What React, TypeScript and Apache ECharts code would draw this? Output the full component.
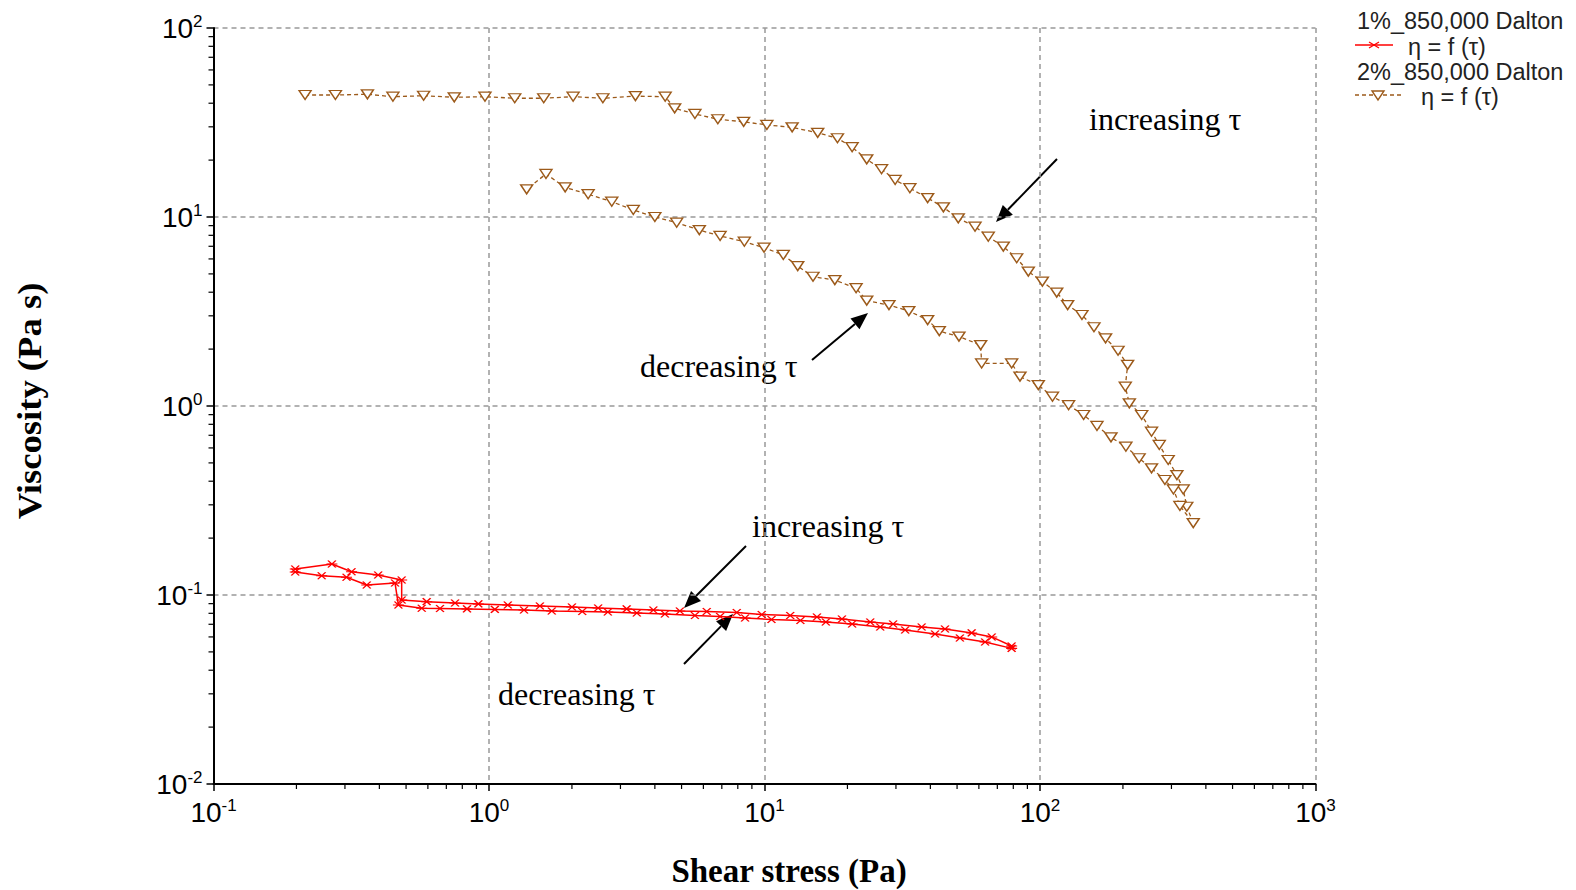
import React, { useEffect, useRef } from "react";
import * as echarts from "echarts";

// ---- Data ----
// 2% solution, increasing shear stress branch
const brownUpX = [0.215, 0.277, 0.362, 0.448, 0.579, 0.748, 0.967, 1.24, 1.58, 2.02, 2.59, 3.4, 4.36, 4.72, 5.59, 6.77, 8.4, 10.2, 12.6, 15.6, 18.4, 20.8, 23.5, 26.6, 29.8, 33.7, 39.1, 44.6, 50.5, 58.1, 64.9, 73.6, 82.3, 90.7, 102, 115, 126, 142, 157, 173, 192, 208, 204, 211, 234, 254, 271, 292, 314, 331, 341, 360];
const brownUpY = [44.2, 44.2, 44.6, 43.3, 43.8, 43.0, 43.3, 42.5, 42.5, 43.3, 42.5, 43.6, 43.3, 37.6, 35.1, 32.9, 31.9, 30.7, 29.8, 27.9, 26.1, 23.4, 20.2, 17.9, 15.7, 14.2, 12.6, 11.25, 9.84, 8.89, 7.87, 6.97, 6.05, 5.14, 4.55, 3.98, 3.42, 3.03, 2.61, 2.28, 1.96, 1.65, 1.265, 1.033, 0.896, 0.731, 0.622, 0.518, 0.431, 0.362, 0.293, 0.24];
// 2% solution, decreasing shear stress branch
const brownDownX = [322, 305, 284, 254, 229, 205, 181, 161, 144, 127, 111, 98.6, 84.6, 78.9, 61.4, 60.9, 50.8, 43.1, 39.1, 33.4, 28.3, 23.5, 21.5, 18.0, 15.0, 13.2, 11.7, 9.96, 8.45, 6.9, 5.8, 4.8, 4.0, 3.34, 2.79, 2.29, 1.89, 1.61, 1.37];
const brownDownY = [0.296, 0.362, 0.406, 0.468, 0.529, 0.609, 0.683, 0.784, 0.896, 1.01, 1.12, 1.29, 1.43, 1.68, 1.68, 2.1, 2.33, 2.49, 2.85, 3.18, 3.42, 3.61, 4.2, 4.64, 4.83, 5.5, 6.3, 6.88, 7.4, 7.94, 8.53, 9.33, 10.0, 10.9, 12.05, 13.2, 14.35, 16.9, 14.0];
// 1% solution, increasing branch
const redUpX = [0.198, 0.269, 0.317, 0.396, 0.482, 0.482, 0.594, 0.753, 0.915, 1.17, 1.53, 2.0, 2.49, 3.16, 3.95, 4.93, 6.17, 7.93, 9.77, 12.4, 15.5, 19.1, 24.2, 29.3, 37.2, 45.2, 56.5, 66.8, 78.9];
const redUpY = [0.1373, 0.146, 0.1328, 0.1276, 0.1201, 0.0941, 0.0922, 0.0907, 0.0897, 0.0885, 0.0875, 0.0864, 0.0853, 0.0844, 0.0833, 0.0823, 0.0818, 0.0808, 0.0788, 0.0779, 0.0765, 0.0746, 0.072, 0.0702, 0.0677, 0.0661, 0.063, 0.06, 0.0537];
// 1% solution, decreasing branch
const redDownX = [78.9, 63.2, 51.2, 41.6, 32.4, 26.3, 20.8, 16.7, 13.5, 10.6, 8.5, 6.9, 5.59, 4.35, 3.44, 2.7, 2.18, 1.69, 1.34, 1.05, 0.832, 0.664, 0.57, 0.469, 0.456, 0.36, 0.304, 0.247, 0.198];
const redDownY = [0.0522, 0.0564, 0.0592, 0.0622, 0.0653, 0.0677, 0.0702, 0.072, 0.0733, 0.0742, 0.0755, 0.0769, 0.0779, 0.0793, 0.0803, 0.0813, 0.0818, 0.0823, 0.0833, 0.0839, 0.0844, 0.0849, 0.0851, 0.0885, 0.1157, 0.1129, 0.1241, 0.1265, 0.1324];

const minorMantissas = [2, 3, 4, 5, 6, 7, 8, 9];
const xDecades = [0.1, 1, 10, 100];
const yDecades = [0.01, 0.1, 1, 10];

const BROWN = "#9C5A1A";
const RED = "#FF0000";

const pairs = (xs: number[], ys: number[]) => xs.map((x, i) => [x, ys[i]]);

function arrow(x1: number, y1: number, x2: number, y2: number) {
  const a = Math.atan2(y2 - y1, x2 - x1);
  const L = 17, W = 7;
  const bx = x2 - L * Math.cos(a), by = y2 - L * Math.sin(a);
  const px = -Math.sin(a) * W, py = Math.cos(a) * W;
  return [
    { type: "line", shape: { x1, y1, x2: bx, y2: by }, style: { stroke: "#000", lineWidth: 2 } },
    { type: "polygon", shape: { points: [[x2, y2], [bx + px, by + py], [bx - px, by - py]] }, style: { fill: "#000" } },
  ];
}

const TICK_FONT = '"Liberation Sans", Arial, sans-serif';
const labelRich = {
  b: { fontSize: 28, fontFamily: TICK_FONT, color: "#000", lineHeight: 30 },
  s: { fontSize: 17, fontFamily: TICK_FONT, color: "#000", lineHeight: 30, verticalAlign: "top" },
};
const expFormatter = (v: number) => `{b|10}{s|${Math.round(Math.log10(v))}}`;

export default function App() {
  const ref = useRef<HTMLDivElement>(null);
  useEffect(() => {
    if (!ref.current) return;
    const chart = echarts.init(ref.current, null, { renderer: "svg" });
    const xMinor: number[] = [];
    xDecades.forEach((d) => minorMantissas.forEach((m) => xMinor.push(d * m)));
    const yMinor: number[] = [];
    yDecades.forEach((d) => minorMantissas.forEach((m) => yMinor.push(d * m)));

    const legendFont = '23.5px "Liberation Sans", Arial';
    const annFont = '32px "Liberation Serif", "Times New Roman"';
    const titleFont = 'bold 33px "Liberation Serif", "Times New Roman"';

    chart.setOption({
      animation: false,
      backgroundColor: "#fff",
      grid: { left: 213.5, right: 260.5, top: 28, bottom: 106, containLabel: false },
      xAxis: {
        type: "log",
        logBase: 10,
        min: 0.1,
        max: 1000,
        axisLine: { show: true, lineStyle: { color: "#000", width: 2 } },
        axisTick: { show: true, length: 7, lineStyle: { color: "#000", width: 1.5 } },
        axisLabel: { formatter: expFormatter, rich: labelRich, margin: 13, fontSize: 28, fontFamily: TICK_FONT, color: "#000" },
        splitLine: { show: true, lineStyle: { color: "#999", type: [5, 4], width: 1.5 } },
      },
      yAxis: {
        type: "log",
        logBase: 10,
        min: 0.01,
        max: 100,
        axisLine: { show: true, lineStyle: { color: "#000", width: 2 } },
        axisTick: { show: true, length: 7, lineStyle: { color: "#000", width: 1.5 } },
        axisLabel: { formatter: expFormatter, rich: labelRich, margin: 11, fontSize: 28, fontFamily: TICK_FONT, color: "#000" },
        splitLine: { show: true, lineStyle: { color: "#999", type: [5, 4], width: 1.5 } },
      },
      series: [
        {
          name: "1%_850,000 Dalton",
          type: "line",
          data: pairs(redUpX, redUpY).concat(pairs(redDownX, redDownY)),
          showAllSymbol: true,
          symbol: "path://M0,0L10,7M10,0L0,7M-2,3.5L12,3.5",
          symbolSize: [11, 7],
          itemStyle: { color: "none", borderColor: RED, borderWidth: 1.3 },
          lineStyle: { color: RED, width: 1.5 },
          z: 3,
        },
        {
          name: "2%_850,000 Dalton",
          type: "line",
          data: pairs(brownUpX, brownUpY).concat(pairs(brownDownX, brownDownY)),
          showAllSymbol: true,
          symbol: "path://M0,0L12,0L6,9Z",
          symbolSize: [12, 9],
          itemStyle: { color: "#fff", borderColor: BROWN, borderWidth: 1.4 },
          lineStyle: { color: BROWN, width: 1.3, type: [4, 3] },
          z: 4,
        },
        {
          type: "custom",
          silent: true,
          clip: false,
          data: xMinor.map((v) => [v, 0.01]),
          renderItem: (params: any, api: any) => {
            const p = api.coord([api.value(0), api.value(1)]);
            return { type: "line", shape: { x1: p[0], y1: p[1], x2: p[0], y2: p[1] + 5 }, style: { stroke: "#000", lineWidth: 1.2 } };
          },
          z: 5,
        },
        {
          type: "custom",
          silent: true,
          clip: false,
          data: yMinor.map((v) => [0.1, v]),
          renderItem: (params: any, api: any) => {
            const p = api.coord([api.value(0), api.value(1)]);
            return { type: "line", shape: { x1: p[0] - 5, y1: p[1], x2: p[0], y2: p[1] }, style: { stroke: "#000", lineWidth: 1.2 } };
          },
          z: 5,
        },
      ],
      graphic: [
        // axis titles
        {
          type: "text", x: 30, y: 401, rotation: Math.PI / 2, scaleX: 1.11,
          style: { text: "Viscosity (Pa s)", font: titleFont, fill: "#000", align: "center", verticalAlign: "middle" },
        },
        {
          type: "text", x: 789, y: 871,
          style: { text: "Shear stress (Pa)", font: titleFont, fill: "#000", align: "center", verticalAlign: "middle" },
        },
        // legend
        { type: "text", x: 1357, y: 21, style: { text: "1%_850,000 Dalton", font: legendFont, fill: "#222", verticalAlign: "middle" } },
        { type: "line", shape: { x1: 1355, y1: 45, x2: 1393, y2: 45 }, style: { stroke: RED, lineWidth: 1.5 } },
        { type: "line", shape: { x1: 1369, y1: 42, x2: 1379, y2: 48 }, style: { stroke: RED, lineWidth: 1.2 } },
        { type: "line", shape: { x1: 1379, y1: 42, x2: 1369, y2: 48 }, style: { stroke: RED, lineWidth: 1.2 } },
        { type: "text", x: 1408, y: 47, style: { text: "η = f (τ)", font: legendFont, fill: "#222", verticalAlign: "middle" } },
        { type: "text", x: 1357, y: 72, style: { text: "2%_850,000 Dalton", font: legendFont, fill: "#222", verticalAlign: "middle" } },
        { type: "line", shape: { x1: 1355, y1: 95, x2: 1403, y2: 95 }, style: { stroke: BROWN, lineWidth: 1.3, lineDash: [4, 3] } },
        { type: "polygon", shape: { points: [[1372, 91], [1384, 91], [1378, 100]] }, style: { fill: "#fff", stroke: BROWN, lineWidth: 1.4 } },
        { type: "text", x: 1421, y: 97, style: { text: "η = f (τ)", font: legendFont, fill: "#222", verticalAlign: "middle" } },
        // annotations
        { type: "text", x: 1089, y: 119, style: { text: "increasing τ", font: annFont, fill: "#000", verticalAlign: "middle" } },
        { type: "text", x: 640, y: 366, style: { text: "decreasing τ", font: annFont, fill: "#000", verticalAlign: "middle" } },
        { type: "text", x: 752, y: 526, style: { text: "increasing τ", font: annFont, fill: "#000", verticalAlign: "middle" } },
        { type: "text", x: 498, y: 694, style: { text: "decreasing τ", font: annFont, fill: "#000", verticalAlign: "middle" } },
        ...arrow(1057, 159, 996, 222),
        ...arrow(812, 360, 868, 313),
        ...arrow(746, 546, 684, 608),
        ...arrow(684, 664, 733, 614),
      ],
    });
    return () => chart.dispose();
  }, []);
  return <div ref={ref} style={{ position: "fixed", left: 0, top: 0, width: 1576, height: 890, background: "#fff" }} />;
}
